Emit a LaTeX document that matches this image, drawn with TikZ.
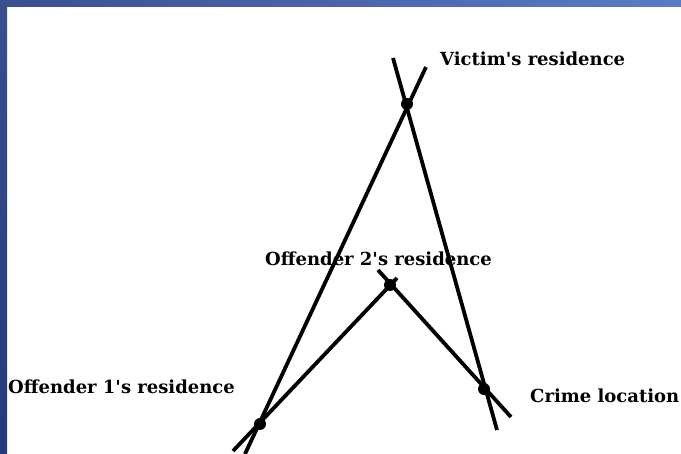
\documentclass[tikz,border=0pt]{standalone}
\usepackage{fontspec}
\setmainfont{DejaVu Serif}
\definecolor{barA}{HTML}{3A4F90}
\definecolor{barB}{HTML}{5A7BC8}
\definecolor{barC}{HTML}{24397E}
\begin{document}
\begin{tikzpicture}[x=1pt,y=-1pt,
  ln/.style={line width=3.8pt},
  dot/.style={circle,fill=black,inner sep=0pt,minimum size=12pt},
  lbl/.style={anchor=base west,inner sep=0pt,font=\fontsize{18}{18}\selectfont\bfseries}]
\useasboundingbox (0,0) rectangle (681,454);
\fill[white] (0,0) rectangle (681,454);
\shade[left color=barA,right color=barB] (0,0) rectangle (681,7);
\shade[top color=barA,bottom color=barC] (0,0) rectangle (7,454);
% points
\coordinate (V) at (407,104);
\coordinate (O2) at (390,285);
\coordinate (O1) at (260,424);
\coordinate (C) at (484,389);
% line ends
\coordinate (a1) at (426,67);
\coordinate (a2) at (245,454);
\coordinate (b1) at (393,58);
\coordinate (b2) at (497,430);
\coordinate (c1) at (233,451);
\coordinate (c2) at (397,278);
\coordinate (d1) at (378,270);
\coordinate (d2) at (511,417);
\draw[ln] (a1) -- (a2);
\draw[ln] (b1) -- (b2);
\draw[ln] (c1) -- (c2);
\draw[ln] (d1) -- (d2);
\node[dot] (nV) at (V) {};
\node[dot] (nO2) at (O2) {};
\node[dot] (nO1) at (O1) {};
\node[dot] (nC) at (C) {};
\node[lbl] (tV) at (440,66) {Victim\textquotesingle s residence};
\node[lbl] (tO2) at (265,266) {Offender 2\textquotesingle s residence};
\node[lbl] (tO1) at (8,394) {Offender 1\textquotesingle s residence};
\node[lbl] (tC) at (530,403) {Crime location};
\end{tikzpicture}
\end{document}
